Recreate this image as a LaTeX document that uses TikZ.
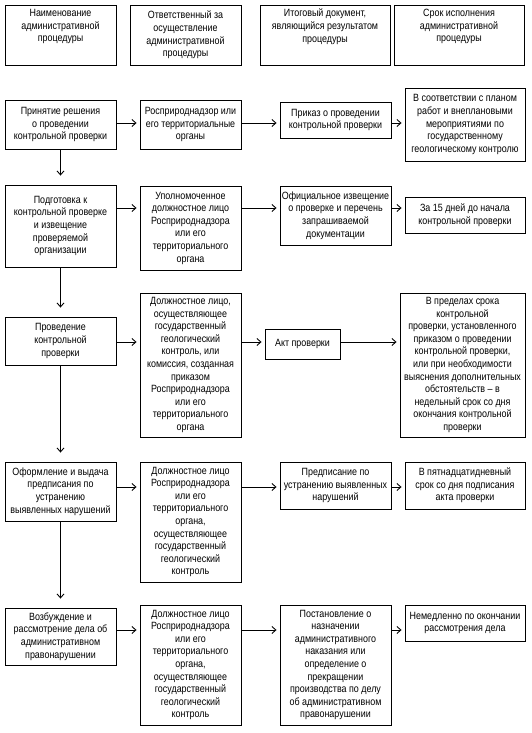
\documentclass[tikz,border=0pt]{standalone}
\usepackage{fontspec}
\setmainfont{Liberation Sans}[FakeStretch=0.85]
\usetikzlibrary{arrows.meta}
\begin{document}
\begin{tikzpicture}[x=1pt,y=-1pt,
  box/.style={draw, line width=0.9pt, inner sep=0pt, align=center,
    font=\fontsize{10.5}{12.6}\selectfont},
  arr/.style={line width=0.9pt, -{Straight Barb[length=4pt,width=7pt,line width=0.9pt]}},
  varr/.style={arr, shorten >=9pt},
  harr/.style={arr, shorten >=3pt}]
\useasboundingbox[fill=white] (0,0) rectangle (532,733);
\newcommand{\bx}[6]{\node[box, minimum width=#4-#2, minimum height=#5-#3] (#1) at ({(#2+#4)/2},{(#3+#5)/2}) {#6};}
% header
\bx{h1}{5}{5}{116}{65}{Наименование\\административной\\процедуры\\[6pt]}
\bx{h2}{130}{5}{241}{65}{Ответственный за\\осуществление\\административной\\процедуры}
\bx{h3}{260}{5}{390}{65}{Итоговый документ,\\являющийся результатом\\процедуры\\[6pt]}
\bx{h4}{394}{5}{524}{65}{Срок исполнения\\административной\\процедуры\\[6pt]}
% row 1
\bx{a1}{5}{100}{116}{149}{Принятие решения\\о проведении\\контрольной проверки}
\bx{b1}{140}{100}{241}{149}{Росприроднадзор или\\его территориальные\\органы}
\bx{c1}{280}{102}{391}{138}{Приказ о проведении\\контрольной проверки}
\bx{d1}{405}{88}{525}{161}{В соответствии с планом\\работ и внеплановыми\\мероприятиями по\\государственному\\геологическому контролю}
% row 2
\bx{a2}{5}{185}{116}{267}{Подготовка к\\контрольной проверке\\и извещение\\проверяемой\\организации}
\bx{b2}{140}{186}{241}{270}{Уполномоченное\\должностное лицо\\Росприроднадзора\\или его\\территориального\\органа}
\bx{c2}{280}{186}{391}{245}{Официальное извещение\\о проверке и перечень\\запрашиваемой\\документации}
\bx{d2}{405}{197}{525}{233}{За 15 дней до начала\\контрольной проверки}
% row 3
\bx{a3}{5}{317}{116}{365}{Проведение\\контрольной\\проверки}
\bx{b3}{140}{293}{241}{437}{Должностное лицо,\\осуществляющее\\государственный\\геологический\\контроль, или\\комиссия, созданная\\приказом\\Росприроднадзора\\или его\\территориального\\органа}
\bx{c3}{265}{329}{340}{359}{Акт проверки}
\bx{d3}{400}{293}{525}{437}{В пределах срока\\контрольной\\проверки, установленного\\приказом о проведении\\контрольной проверки,\\или при необходимости\\выяснения дополнительных\\обстоятельств – в\\недельный срок со дня\\окончания контрольной\\проверки}
% row 4
\bx{a4}{5}{462}{116}{521}{Оформление и выдача\\предписания по\\устранению\\выявленных нарушений}
\bx{b4}{140}{462}{241}{582}{Должностное лицо\\Росприроднадзора\\или его\\территориального\\органа,\\осуществляющее\\государственный\\геологический\\контроль}
\bx{c4}{280}{462}{391}{509}{Предписание по\\устранению выявленных\\нарушений}
\bx{d4}{405}{462}{525}{509}{В пятнадцатидневный\\срок со дня подписания\\акта проверки}
% row 5
\bx{a5}{5}{608}{116}{665}{Возбуждение и\\рассмотрение дела об\\административном\\правонарушении}
\bx{b5}{140}{605}{241}{725}{Должностное лицо\\Росприроднадзора\\или его\\территориального\\органа,\\осуществляющее\\государственный\\геологический\\контроль}
\bx{c5}{280}{605}{391}{725}{Постановление о\\назначении\\административного\\наказания или\\определение о\\прекращении\\производства по делу\\об административном\\правонарушении}
\bx{d5}{405}{605}{525}{641}{Немедленно по окончании\\рассмотрения дела}
% row levels
\coordinate (r1) at (0,123);
\coordinate (r2) at (0,208);
\coordinate (r3) at (0,342);
\coordinate (r4) at (0,487);
\coordinate (r5) at (0,630);
\foreach \r in {1,...,5}{
  \draw[harr] (a\r.east |- r\r) -- (b\r.west |- r\r);
  \draw[harr] (b\r.east |- r\r) -- (c\r.west |- r\r);
  \draw[harr] (c\r.east |- r\r) -- (d\r.west |- r\r);
}
\draw[varr] (a1.south) -- (a2.north);
\draw[varr] (a2.south) -- (a3.north);
\draw[varr] (a3.south) -- (a4.north);
\draw[varr] (a4.south) -- (a5.north);
\end{tikzpicture}
\end{document}
